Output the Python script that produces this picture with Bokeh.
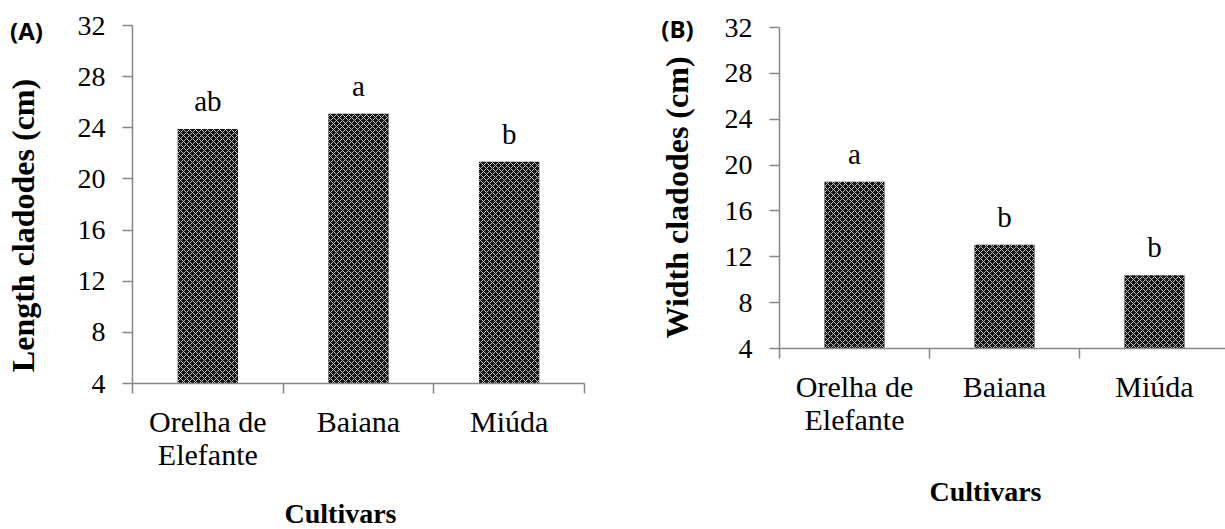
import math
from bokeh.plotting import figure
from bokeh.models import Range1d, FixedTicker, Label, ColumnDataSource
from bokeh.layouts import row
from bokeh.embed import file_html
from bokeh.resources import INLINE
from bokeh.core.properties import value

# ---- data ----
cultivars = ["Orelha de\nElefante", "Baiana", "Miúda"]
length_cm = [23.9, 25.1, 21.35]
length_letters = ["ab", "a", "b"]
width_cm = [18.55, 13.05, 10.4]
width_letters = ["a", "b", "b"]
y_ticks = [4, 8, 12, 16, 20, 24, 28, 32]
panel_tags = ["(A)", "(B)"]
x_title = "Cultivars"
y_titles = ["Length  cladodes  (cm)", "Width cladodes (cm)"]

SERIF = "Liberation Serif"
GREY = "#868686"
H = 529


def panel(values, letters, ytitle, tag, fig_left, width, x0_px, x_unit, ytop_px, ybot_px,
          tag_px, title_px, ytitle_px):
    n = len(cultivars)
    ymin, ymax = y_ticks[0], y_ticks[-1]
    y_unit = (ybot_px - ytop_px) / (ymax - ymin)
    xr = Range1d(-(x0_px - fig_left) / x_unit, (fig_left + width - x0_px) / x_unit)
    yr = Range1d(ymin - (H - ybot_px) / y_unit, ymax + ytop_px / y_unit)

    def px2x(px):
        return (px - x0_px) / x_unit

    def px2y(py):
        return ymax - (py - ytop_px) / y_unit

    p = figure(width=width, height=H, x_range=xr, y_range=yr,
               output_backend="svg", toolbar_location=None,
               min_border_left=0, min_border_right=0, min_border_top=0, min_border_bottom=0)
    p.outline_line_color = None
    p.grid.visible = False
    p.background_fill_color = "white"
    p.border_fill_color = "white"

    centers = [i + 0.5 for i in range(n)]
    src = ColumnDataSource(dict(x=centers, top=values, letters=letters))
    p.vbar(x="x", top="top", bottom=ymin, width=0.4, source=src,
           fill_color="#111111", line_color=None,
           hatch_pattern="diagonal_cross", hatch_color="#c4c4c4", hatch_scale=6, hatch_weight=1.0)
    p.text(x="x", y="top", text="letters", source=src, y_offset=-28,
           text_align="center", text_baseline="alphabetic",
           text_font=value(SERIF), text_font_size="29px", text_color="black")

    xa = p.xaxis[0]
    xa.fixed_location = ymin
    xa.bounds = (0, n)
    xa.ticker = FixedTicker(ticks=centers, minor_ticks=list(range(n + 1)))
    xa.major_label_overrides = {c: lab for c, lab in zip(centers, cultivars)}
    xa.major_tick_out = 0
    xa.major_tick_in = 0
    xa.minor_tick_out = 10
    xa.minor_tick_in = 0
    xa.minor_tick_line_color = GREY
    xa.minor_tick_line_width = 1.5
    xa.major_label_standoff = 11
    xa.axis_line_color = GREY
    xa.axis_line_width = 1.5
    xa.major_label_text_font = SERIF
    xa.major_label_text_font_size = "30px"
    xa.major_label_text_line_height = 1.02
    xa.major_label_text_color = "black"

    ya = p.yaxis[0]
    ya.fixed_location = 0
    ya.bounds = (ymin, ymax)
    ya.ticker = FixedTicker(ticks=y_ticks, minor_ticks=[])
    ya.major_tick_out = 10
    ya.major_tick_in = 0
    ya.major_tick_line_color = GREY
    ya.major_tick_line_width = 1.5
    ya.axis_line_color = GREY
    ya.axis_line_width = 1.5
    ya.major_label_standoff = 17
    ya.major_label_text_font = SERIF
    ya.major_label_text_font_size = "28px"
    ya.major_label_text_color = "black"

    p.add_layout(Label(x=px2x(ytitle_px[0]), y=px2y(ytitle_px[1]), text=ytitle, angle=math.pi / 2,
                       text_font=SERIF, text_font_style="bold", text_font_size="32px",
                       text_align="center", text_baseline="middle", text_color="black"))
    p.add_layout(Label(x=px2x(tag_px[0]), y=px2y(tag_px[1]), text=tag, text_font="Open Sans",
                       text_font_style="bold", text_font_size="24px", text_align="center",
                       text_baseline="middle", text_color="black"))
    p.add_layout(Label(x=px2x(title_px[0]), y=px2y(title_px[1]), text=x_title, text_font=SERIF,
                       text_font_style="bold", text_font_size="28px", text_align="center",
                       text_baseline="alphabetic", text_color="black"))
    return p


pa = panel(length_cm, length_letters, y_titles[0], panel_tags[0],
           fig_left=0, width=620, x0_px=132, x_unit=150.67, ytop_px=25, ybot_px=383,
           tag_px=(26, 30), title_px=(340, 513), ytitle_px=(22, 217))
pb = panel(width_cm, width_letters, y_titles[1], panel_tags[1],
           fig_left=620, width=605, x0_px=779, x_unit=150.0, ytop_px=27, ybot_px=348,
           tag_px=(677, 28), title_px=(985, 491), ytitle_px=(676, 197))

layout = row(pa, pb)
open("out.html", "w").write(file_html(layout, INLINE))
